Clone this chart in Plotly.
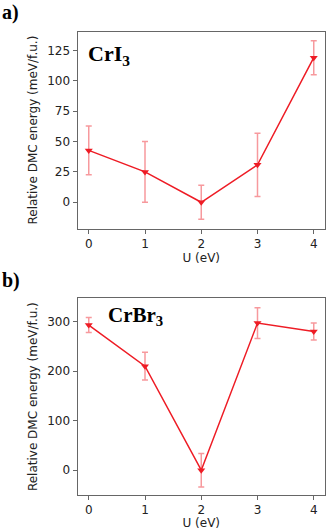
import plotly.graph_objects as go

U = [0, 1, 2, 3, 4]
cri3_energy = [42.7, 25.0, 0.0, 30.8, 119.0]
cri3_err = [20, 25, 14, 26, 14]
crbr3_energy = [293, 210, 0, 297, 280]
crbr3_err = [15, 28, 34, 31, 17]
x_ticks = [0, 1, 2, 3, 4]
cri3_yticks = [0, 25, 50, 75, 100, 125]
crbr3_yticks = [0, 100, 200, 300]

W, H = 327, 530
RED = "#ee1c25"
ERR = "rgba(238,28,37,0.45)"
AX = "#666666"
TXT = "#222222"

fig = go.Figure()

def add(y, e, xa, ya):
    fig.add_trace(go.Scatter(
        x=U, y=y, xaxis=xa, yaxis=ya, mode="lines+markers",
        line=dict(color=RED, width=1.5),
        marker=dict(symbol="triangle-down", size=7, color=RED),
        error_y=dict(type="data", array=e, visible=True, color=ERR, thickness=1.5, width=3),
        showlegend=False))

add(cri3_energy, cri3_err, "x", "y")
add(crbr3_energy, crbr3_err, "x2", "y2")

xd = [77.5 / W, 325 / W]
top_dom = [1 - 228.5 / H, 1 - 31.7 / H]
bot_dom = [1 - 495 / H, 1 - 298.3 / H]

axcommon = dict(showline=True, linecolor=AX, linewidth=1, mirror=True, showgrid=False,
                zeroline=False, ticks="outside", ticklen=4, tickcolor=AX, tickwidth=1,
                tickfont=dict(family="DejaVu Sans", size=12, color=TXT))
tfont = dict(family="DejaVu Sans", size=12, color=TXT)

fig.update_layout(
    width=W, height=H, margin=dict(l=0, r=0, t=0, b=0),
    paper_bgcolor="white", plot_bgcolor="white",
    xaxis=dict(domain=xd, anchor="y", range=[-0.2, 4.2], tickvals=x_ticks,
               title=dict(text="U (eV)", font=tfont, standoff=0), **axcommon),
    yaxis=dict(domain=top_dom, anchor="x", range=[-21.6, 140.4], tickvals=cri3_yticks,
               title=dict(text="Relative DMC energy (meV/f.u.)", font=tfont, standoff=6), **axcommon),
    xaxis2=dict(domain=xd, anchor="y2", range=[-0.2, 4.2], tickvals=x_ticks,
                title=dict(text="U (eV)", font=tfont, standoff=0), **axcommon),
    yaxis2=dict(domain=bot_dom, anchor="x2", range=[-50, 347], tickvals=crbr3_yticks,
                title=dict(text="Relative DMC energy (meV/f.u.)", font=tfont, standoff=6), **axcommon),
)

serif = "Liberation Serif"
fig.add_annotation(x=0, y=1 - 13 / H, xref="paper", yref="paper", xanchor="left", yanchor="middle",
                   text="<b>a)</b>", showarrow=False, font=dict(family=serif, size=20, color="black"))
fig.add_annotation(x=0, y=1 - 280 / H, xref="paper", yref="paper", xanchor="left", yanchor="middle",
                   text="<b>b)</b>", showarrow=False, font=dict(family=serif, size=20, color="black"))
fig.add_annotation(x=86 / W, y=1 - 55 / H, xref="paper", yref="paper", xanchor="left", yanchor="middle",
                   text="<b>CrI<sub>3</sub></b>", showarrow=False, font=dict(family=serif, size=22, color="black"))
fig.add_annotation(x=106 / W, y=1 - 316 / H, xref="paper", yref="paper", xanchor="left", yanchor="middle",
                   text="<b>CrBr<sub>3</sub></b>", showarrow=False, font=dict(family=serif, size=21, color="black"))

fig.write_html("out.html", config={"displayModeBar": False},
               post_script="document.body.style.margin='0';document.body.style.overflow='hidden';")
